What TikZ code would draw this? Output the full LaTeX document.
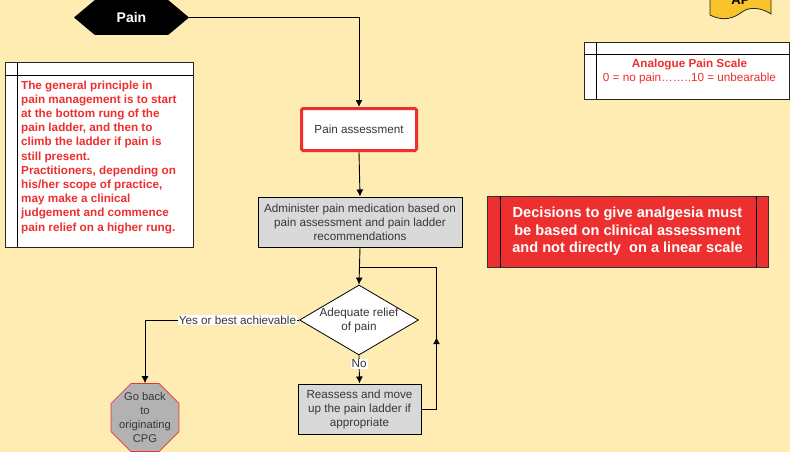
\documentclass[tikz,border=0pt]{standalone}
\usepackage{fontspec}
\setmainfont{Liberation Sans}
\usepackage{xcolor}
\usetikzlibrary{positioning}
\usetikzlibrary{arrows.meta}
\usetikzlibrary{shapes.geometric}
\usetikzlibrary{shapes.symbols}
\usetikzlibrary{decorations.markings}
\definecolor{paperColor}{RGB}{255,236,179}
\definecolor{alertRed}{RGB}{237,47,47}
\definecolor{boxGray}{RGB}{217,217,217}
\definecolor{stopGray}{RGB}{178,178,180}
\definecolor{flagGold}{RGB}{248,196,42}
\definecolor{inkGray}{RGB}{55,55,55}

\begin{document}
\begin{tikzpicture}[x=1pt,y=-1pt,
  flowText/.style={font=\fontsize{11.7}{14}\selectfont, text=inkGray, align=center},
  process/.style={flowText, draw, fill=boxGray, line width=1pt, inner sep=0pt},
  decision/.style={flowText, diamond, draw, fill=white, line width=0.8pt, aspect=1.7, inner sep=-2pt},
  stopSign/.style={flowText, font=\fontsize{11.2}{14}\selectfont, regular polygon, regular polygon sides=8, minimum size=73.6pt, inner sep=-12pt, draw=alertRed, fill=stopGray, line width=0.6pt},
  connector/.style={line width=0.9pt, -{Latex[length=7pt,width=7pt]}},
  edgeLabel/.style={flowText, fill=white, inner sep=1pt},
  noteFrame/.style={draw=black!85, fill=white, line width=0.8pt},
  noteText/.style={font=\fontsize{11.7}{14.2}\selectfont\bfseries, text=alertRed, align=left, inner sep=0pt}]
\useasboundingbox (0,0) rectangle (790,452);
\fill [paperColor] (0,0) rectangle (790,452);

\begin{scope}
\clip (0,0) rectangle (790,452);
\filldraw [fill=flagGold, draw=black!85, line width=0.8pt] (710,-10) -- (710,15) .. controls (724,22) and (734,18) .. (742,12) .. controls (750,6) and (762,8) .. (771,14) -- (771,-10);
\node [font=\fontsize{13}{15}\selectfont\bfseries, anchor=base] (ap) at (740.5,4.5) {AP};
\end{scope}

\node [signal, signal to=west and east, signal pointer angle=80, minimum width=115pt, minimum height=35pt, fill=black, text=white, font=\fontsize{14}{16}\selectfont\bfseries] (pain) at (131.5,17.5) {Pain};

\draw [noteFrame] (5,62) rectangle (193,247);
\draw [line width=0.8pt] (5,75) -- (193,75);
\draw [line width=0.8pt] (17,62) -- (17,247);
\node [noteText, anchor=west] (principle) at (21,157) {The general principle in\\pain management is to start\\at the bottom rung of the\\pain ladder, and then to\\climb the ladder if pain is\\still present.\\Practitioners, depending on\\his/her scope of practice,\\may make a clinical\\judgement and commence\\pain relief on a higher rung.};

\draw [noteFrame] (584,42) rectangle (789,99);
\draw [line width=0.8pt] (584,54) -- (789,54);
\draw [line width=0.8pt] (596,42) -- (596,99);
\node [font=\fontsize{11.7}{14}\selectfont, text=alertRed, align=center] (scale) at (689.5,71) {\textbf{Analogue Pain Scale}\\0 = no pain……..10 = unbearable};

\node [draw=black!80, fill=alertRed, minimum width=281pt, minimum height=71pt, line width=0.8pt, text=white, align=center, font=\fontsize{14.6}{17.5}\selectfont\bfseries] (decide) at (627.5,231.5) {Decisions to give analgesia must\\be based on clinical assessment\\and not directly\ \ on a linear scale};
\draw [line width=0.8pt] ([xshift=14pt]decide.north west) -- ([xshift=14pt]decide.south west);
\draw [line width=0.8pt] ([xshift=-12pt]decide.north east) -- ([xshift=-12pt]decide.south east);

\node [flowText, draw=alertRed, fill=white, line width=3pt, rounded corners=1.5pt, minimum width=115pt, minimum height=42pt] (assess) at (359,129.5) {Pain assessment};
\node [process, minimum width=204pt, minimum height=50pt] (admin) at (360,222) {Administer pain medication based on\\pain assessment and pain ladder\\recommendations};
\node [decision, minimum width=119pt, minimum height=70pt] (adequate) at (359,320) {Adequate relief\\of pain};
\node [process, minimum width=123pt, minimum height=50pt] (reassess) at (359.5,409) {Reassess and move\\up the pain ladder if\\appropriate};
\node [stopSign] (back) at (145,417.5) {Go back\\to\\originating\\CPG};
\coordinate (loopJoin) at (359,267);

\draw [connector] (pain.east) -| (assess.north);
\draw [connector] (assess.south) -- (admin.north);
\draw [connector] (admin.south) -- (adequate.north);
\draw [connector] (adequate.west) -| node [edgeLabel, pos=0.2] {Yes or best achievable} (back.north);
\draw [connector] (adequate.south) -- node [edgeLabel, pos=0.3] {No} (reassess.north);
\draw [line width=0.9pt, postaction={decorate}, decoration={markings, mark=at position 0.37 with {\arrow{Latex[length=7pt,width=7pt]}}}] (reassess.east) -- ++(15,0) |- (loopJoin);
\end{tikzpicture}
\end{document}
